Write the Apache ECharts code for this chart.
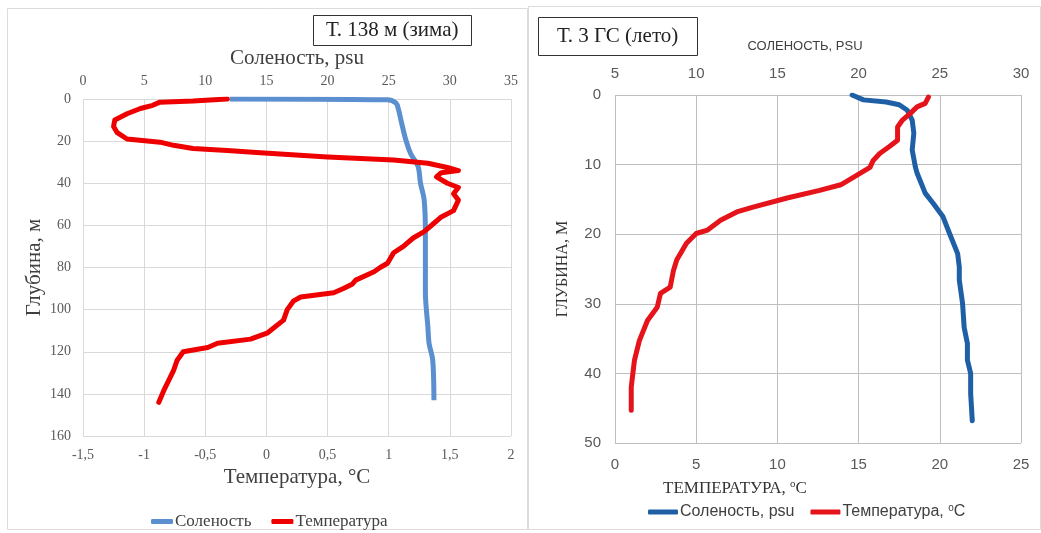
<!DOCTYPE html>
<html>
<head>
<meta charset="utf-8">
<script src="https://cdn.jsdelivr.net/npm/echarts@6/dist/echarts.min.js"></script>
<style>html,body{margin:0;padding:0;background:#fff}#c{width:1041px;height:533px}</style>
</head>
<body>
<div id="c"></div>
<script>
// ---- Left panel: Т. 138 м (зима) ----
var salTicksL = [0, 5, 10, 15, 20, 25, 30, 35];
var tempTicksL = [-1.5, -1, -0.5, 0, 0.5, 1, 1.5, 2];
var depthTicksL = [0, 20, 40, 60, 80, 100, 120, 140, 160];

var salDepth138 = [0, 0.4, 2, 5, 10, 19.5, 26, 32, 40, 48, 64, 80, 92, 108, 116, 124, 143];
var sal138 = [12.0, 24.9, 25.6, 25.8, 26.0, 26.4, 26.8, 27.4, 27.6, 27.9, 28.0, 28.0, 28.0, 28.2, 28.3, 28.6, 28.7];

var tempDepth138 = [0, 1, 1.5, 3, 4.5, 7, 10, 13, 16, 19, 20.5, 22, 23.5, 24.5, 25.5, 27.5, 29, 30.5, 32.5, 34, 35, 37, 40, 42, 45, 48, 53, 56, 59, 63, 66, 70, 73, 78, 80, 82, 86, 88, 90, 92, 94, 96, 100, 105, 111, 114, 116, 118, 120, 124, 129, 138.5, 144];
var temp138 = [-0.32, -0.6, -0.87, -0.93, -1.03, -1.14, -1.24, -1.25, -1.22, -1.14, -0.87, -0.76, -0.6, -0.32, -0.05, 0.5, 1.04, 1.32, 1.48, 1.57, 1.43, 1.39, 1.48, 1.57, 1.53, 1.57, 1.53, 1.43, 1.37, 1.29, 1.2, 1.12, 1.04, 0.99, 0.93, 0.88, 0.73, 0.7, 0.63, 0.55, 0.28, 0.22, 0.17, 0.14, 0.01, -0.13, -0.4, -0.48, -0.68, -0.73, -0.76, -0.84, -0.88];

// ---- Right panel: Т. 3 ГС (лето) ----
var salTicksR = [5, 10, 15, 20, 25, 30];
var tempTicksR = [0, 5, 10, 15, 20, 25];
var depthTicksR = [0, 10, 20, 30, 40, 50];

var salDepth3 = [0, 0.7, 1, 1.4, 2.2, 3.6, 5.5, 7.9, 10.4, 11.2, 14.1, 15.6, 17.5, 19.9, 22.8, 24.7, 26.6, 29.9, 33.4, 35.7, 38.1, 40, 42.9, 46.8];
var sal3 = [19.6, 20.3, 21.7, 22.5, 23.0, 23.3, 23.4, 23.3, 23.5, 23.6, 24.1, 24.6, 25.2, 25.6, 26.1, 26.2, 26.2, 26.4, 26.5, 26.7, 26.7, 26.9, 26.9, 27.0];

var tempDepth3 = [0.3, 1.2, 1.7, 2.6, 3.6, 4.6, 5.5, 6.5, 7.4, 8.4, 9.4, 10.4, 11.8, 12.9, 13.7, 14.8, 16.1, 16.8, 18, 19.4, 19.9, 21.3, 23.7, 25.2, 27.6, 28.5, 30.5, 32.4, 35.3, 38.1, 40, 42, 45.3];
var temp3 = [19.3, 19.1, 18.6, 18.2, 17.7, 17.4, 17.4, 17.4, 16.9, 16.3, 15.9, 15.7, 14.7, 13.9, 12.6, 10.6, 8.5, 7.5, 6.5, 5.7, 5.0, 4.4, 3.8, 3.6, 3.4, 2.8, 2.6, 2.0, 1.5, 1.2, 1.1, 1.0, 1.0];

function zip(xs, ys) { return xs.map(function (x, i) { return [x, ys[i]]; }); }
function step(t) { return t[1] - t[0]; }

var SERIF = "'Liberation Serif', 'DejaVu Serif', serif";
var SANS = "'Liberation Sans', 'Open Sans', sans-serif";
var fmtComma = function (v) { return String(v).replace('.', ','); };

var chart = echarts.init(document.getElementById('c'), null, { renderer: 'canvas' });
var option = {
  backgroundColor: '#ffffff',
  animation: false,
  graphic: [
    { type: 'rect', shape: { x: 7.5, y: 8.5, width: 520, height: 521 }, style: { fill: 'none', stroke: '#dcdcdc', lineWidth: 1 }, z: -1 },
    { type: 'rect', shape: { x: 528.5, y: 6.5, width: 512, height: 523 }, style: { fill: 'none', stroke: '#dcdcdc', lineWidth: 1 }, z: -1 }
  ],
  title: [
    { text: 'Т. 138 м (зима)', left: 313, top: 15, padding: [5, 13, 5, 13], borderColor: '#333', borderWidth: 1,
      textStyle: { fontFamily: SERIF, fontSize: 21, fontWeight: 'normal', color: '#222' } },
    { text: 'Т. 3 ГС (лето)', left: 538, top: 17, padding: [9, 19, 9, 19], borderColor: '#333', borderWidth: 1,
      textStyle: { fontFamily: SERIF, fontSize: 21, fontWeight: 'normal', color: '#222' } }
  ],
  legend: [
    { data: ['Соленость', 'Температура'], left: 146, top: 508,
      icon: 'roundRect', itemWidth: 22, itemHeight: 5, itemGap: 20,
      textStyle: { fontFamily: SERIF, fontSize: 17, color: '#404040', padding: [0, 0, 0, -3] } },
    { data: ['Соленость, psu', 'Температура, ºC'], left: 643, top: 498,
      icon: 'roundRect', itemWidth: 30, itemHeight: 5, itemGap: 16,
      formatter: function (n) { return n === 'Температура, ºC' ? 'Температура, {s|o}C' : n; },
      textStyle: { fontFamily: SANS, fontSize: 16, color: '#404040', padding: [0, 0, 0, -3],
        rich: { s: { fontFamily: SANS, fontSize: 10, verticalAlign: 'top', padding: [0, 0, 8, 0], color: '#404040' } } } }
  ],
  grid: [
    { left: 83, right: 530, top: 99, bottom: 97 },
    { left: 615, right: 20, top: 95, bottom: 90 }
  ],
  xAxis: [
    { gridIndex: 0, type: 'value', position: 'bottom', min: tempTicksL[0], max: tempTicksL[tempTicksL.length - 1], interval: step(tempTicksL),
      name: 'Температура, °C', nameLocation: 'middle', nameGap: 30,
      nameTextStyle: { fontFamily: SERIF, fontSize: 21, color: '#404040' },
      axisLine: { show: false }, axisTick: { show: false },
      axisLabel: { fontFamily: SERIF, fontSize: 14, color: '#595959', margin: 12, formatter: fmtComma },
      splitLine: { show: true, lineStyle: { color: '#d9d9d9', width: 1 } } },
    { gridIndex: 0, type: 'value', position: 'top', min: salTicksL[0], max: salTicksL[salTicksL.length - 1], interval: step(salTicksL),
      name: 'Соленость, psu', nameLocation: 'middle', nameGap: 30,
      nameTextStyle: { fontFamily: SERIF, fontSize: 21, color: '#404040' },
      axisLine: { show: false }, axisTick: { show: false },
      axisLabel: { fontFamily: SERIF, fontSize: 14, color: '#595959', margin: 11 },
      splitLine: { show: false } },
    { gridIndex: 1, type: 'value', position: 'bottom', min: tempTicksR[0], max: tempTicksR[tempTicksR.length - 1], interval: step(tempTicksR),
      name: 'ТЕМПЕРАТУРА, {s|o}C', nameLocation: 'middle', nameGap: 36,
      nameTextStyle: { fontFamily: SERIF, fontSize: 17, color: '#333', padding: [0, 166, 0, 0],
        rich: { s: { fontFamily: SERIF, fontSize: 11, verticalAlign: 'top', padding: [0, 0, 8, 0], color: '#333' } } },
      axisLine: { show: false }, axisTick: { show: false },
      axisLabel: { fontFamily: SANS, fontSize: 15, color: '#595959', margin: 14 },
      splitLine: { show: true, lineStyle: { color: '#bfbfbf', width: 1 } } },
    { gridIndex: 1, type: 'value', position: 'top', min: salTicksR[0], max: salTicksR[salTicksR.length - 1], interval: step(salTicksR),
      name: 'СОЛЕНОСТЬ, PSU', nameLocation: 'middle', nameGap: 42,
      nameTextStyle: { fontFamily: SANS, fontSize: 13, color: '#404040', padding: [0, 26, 0, 0] },
      axisLine: { show: false }, axisTick: { show: false },
      axisLabel: { fontFamily: SANS, fontSize: 15, color: '#595959', margin: 14 },
      splitLine: { show: false } }
  ],
  yAxis: [
    { gridIndex: 0, type: 'value', inverse: true, min: depthTicksL[0], max: depthTicksL[depthTicksL.length - 1], interval: step(depthTicksL),
      name: 'Глубина, м', nameLocation: 'middle', nameGap: 38,
      nameTextStyle: { fontFamily: SERIF, fontSize: 21, color: '#404040' },
      axisLine: { show: false }, axisTick: { show: false },
      axisLabel: { fontFamily: SERIF, fontSize: 14, color: '#595959', margin: 12 },
      splitLine: { show: true, lineStyle: { color: '#d9d9d9', width: 1 } } },
    { gridIndex: 1, type: 'value', inverse: true, min: depthTicksR[0], max: depthTicksR[depthTicksR.length - 1], interval: step(depthTicksR),
      name: 'ГЛУБИНА, М', nameLocation: 'middle', nameGap: 44,
      nameTextStyle: { fontFamily: SERIF, fontSize: 16, color: '#333' },
      axisLine: { show: false }, axisTick: { show: false },
      axisLabel: { fontFamily: SANS, fontSize: 15, color: '#595959', margin: 14 },
      splitLine: { show: true, lineStyle: { color: '#bfbfbf', width: 1 } } }
  ],
  series: [
    { name: 'Соленость', type: 'line', xAxisIndex: 1, yAxisIndex: 0, data: zip(sal138, salDepth138),
      symbol: 'none', smooth: 0.3, lineStyle: { color: '#5b8fd0', width: 5 }, itemStyle: { color: '#5b8fd0' }, z: 2 },
    { name: 'Температура', type: 'line', xAxisIndex: 0, yAxisIndex: 0, data: zip(temp138, tempDepth138),
      symbol: 'none', lineStyle: { color: '#ee0000', width: 5, cap: 'round', join: 'round' }, itemStyle: { color: '#ee0000' }, z: 3 },
    { name: 'Соленость, psu', type: 'line', xAxisIndex: 3, yAxisIndex: 1, data: zip(sal3, salDepth3),
      symbol: 'none', lineStyle: { color: '#1f5fa6', width: 5, cap: 'round', join: 'round' }, itemStyle: { color: '#1f5fa6' }, z: 2 },
    { name: 'Температура, ºC', type: 'line', xAxisIndex: 2, yAxisIndex: 1, data: zip(temp3, tempDepth3),
      symbol: 'none', lineStyle: { color: '#e5141b', width: 5, cap: 'round', join: 'round' }, itemStyle: { color: '#e5141b' }, z: 3 }
  ]
};
chart.setOption(option);
</script>
</body>
</html>
